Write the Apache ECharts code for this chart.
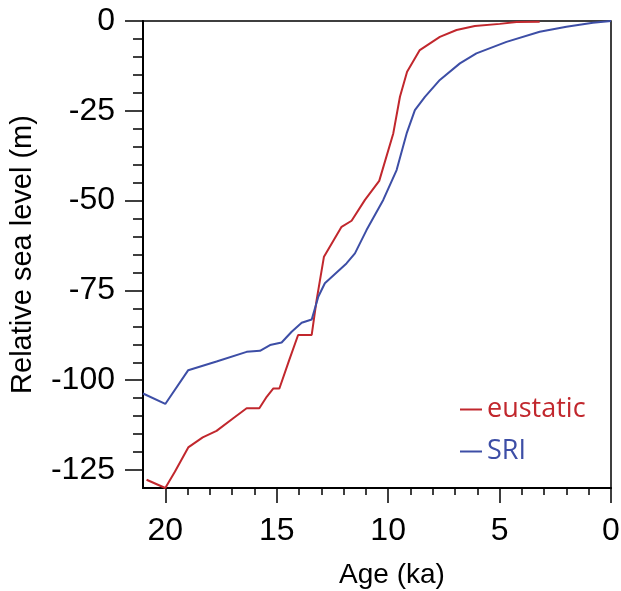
<!DOCTYPE html>
<html>
<head>
<meta charset="utf-8">
<script src="https://cdn.jsdelivr.net/npm/echarts@6/dist/echarts.min.js"></script>
<style>html,body{margin:0;padding:0;background:#fff;}#c{width:621px;height:591px;}</style>
</head>
<body>
<div id="c"></div>
<script>
// Age (ka) and relative sea level (m)
var eustaticAge   = [20.84, 20.0, 19.57, 18.97, 18.32, 17.70, 16.95, 16.35, 15.78, 15.45, 15.15, 14.88, 14.44, 14.04, 13.43, 13.21, 12.88, 12.09, 11.64, 11.04, 10.40, 9.77, 9.47, 9.15, 8.58, 7.68, 6.93, 6.11, 4.99, 4.24, 3.20];
var eustaticLevel = [-127.7, -130, -125.5, -118.7, -115.9, -114.1, -110.6, -107.8, -107.8, -104.6, -102.3, -102.3, -94.4, -87.4, -87.4, -77.7, -65.6, -57.3, -55.6, -49.8, -44.5, -31.3, -21.1, -14.1, -8.1, -4.4, -2.5, -1.4, -0.8, -0.3, -0.2];
var sriAge   = [21.0, 20.0, 18.97, 17.70, 16.35, 15.75, 15.30, 14.78, 14.33, 13.88, 13.43, 13.13, 12.84, 11.87, 11.49, 10.97, 10.22, 9.62, 9.17, 8.80, 8.35, 7.68, 6.78, 6.04, 4.69, 3.20, 2.00, 0.81, 0.0];
var sriLevel = [-103.7, -106.6, -97.2, -94.8, -92.1, -91.8, -90.2, -89.5, -86.5, -84.0, -83.1, -76.7, -73.0, -67.5, -64.7, -58.2, -49.8, -41.5, -31.3, -24.8, -21.1, -16.4, -11.8, -9.0, -5.8, -3.0, -1.6, -0.5, 0.0];
var xMajorTicks = [0, 5, 10, 15, 20];
var xMinorTicks = [1, 2, 3, 4, 6, 7, 8, 9, 11, 12, 13, 14, 16, 17, 18, 19];
var yMajorTicks = [-125, -100, -75, -50, -25, 0];
var yMinorTicks = [-120, -115, -110, -105, -95, -90, -85, -80, -70, -65, -60, -55, -45, -40, -35, -30, -20, -15, -10, -5];
var seriesNames = ['eustatic', 'SRI'];
var seriesColors = ['#c1272d', '#3d4ea6'];

function pairs(a, b) { return a.map(function (v, i) { return [v, b[i]]; }); }

var font = 'Liberation Sans, Arial, Helvetica, sans-serif';
var chart = echarts.init(document.getElementById('c'), null, {renderer: 'canvas'});
var axisLineStyle = {color: '#000', width: 2};
var gridBox = {left: 143, right: 10, top: 21, bottom: 103, containLabel: false, outerBoundsMode: 'none'};
chart.setOption({
  animation: false,
  backgroundColor: '#fff',
  grid: [
    Object.assign({show: true, borderColor: '#000', borderWidth: 1.5}, gridBox),
    Object.assign({show: false}, gridBox)
  ],
  xAxis: [{
    gridIndex: 0, type: 'value', min: 0, max: 21, inverse: true, position: 'bottom',
    name: 'Age (ka)', nameLocation: 'middle', nameGap: 73,
    nameTextStyle: {fontFamily: font, fontSize: 28, color: '#000', padding: [0, 0, 0, 30]},
    axisLine: {show: true, onZero: false, lineStyle: axisLineStyle},
    axisTick: {show: true, inside: false, length: 15, customValues: xMajorTicks, lineStyle: {color: '#000', width: 1.5}},
    axisLabel: {show: true, customValues: xMajorTicks, margin: 27, fontFamily: font, fontSize: 32, color: '#000'},
    splitLine: {show: false}
  }, {
    gridIndex: 1, type: 'value', min: 0, max: 21, inverse: true, position: 'bottom',
    axisLine: {show: false, onZero: false},
    axisTick: {show: true, inside: false, length: 7, customValues: xMinorTicks, lineStyle: {color: '#000', width: 1.5}},
    axisLabel: {show: false},
    splitLine: {show: false}
  }],
  yAxis: [{
    gridIndex: 0, type: 'value', min: -130, max: 0, position: 'left',
    name: 'Relative sea level (m)', nameLocation: 'middle', nameRotate: 90, nameGap: 106,
    nameTextStyle: {fontFamily: font, fontSize: 29, color: '#000'},
    axisLine: {show: true, onZero: false, lineStyle: axisLineStyle},
    axisTick: {show: true, inside: false, length: 18, customValues: yMajorTicks, lineStyle: {color: '#000', width: 1.5}},
    axisLabel: {show: true, customValues: yMajorTicks, margin: 28, fontFamily: font, fontSize: 32, color: '#000'},
    splitLine: {show: false}
  }, {
    gridIndex: 1, type: 'value', min: -130, max: 0, position: 'left',
    axisLine: {show: false, onZero: false},
    axisTick: {show: true, inside: false, length: 10, customValues: yMinorTicks, lineStyle: {color: '#000', width: 1.5}},
    axisLabel: {show: false},
    splitLine: {show: false}
  }],
  legend: [{
    data: [seriesNames[0]], orient: 'vertical', left: 455, top: 391,
    icon: 'rect', itemWidth: 22, itemHeight: 2,
    textStyle: {color: seriesColors[0], fontSize: 27, fontFamily: 'Open Sans, Lato, sans-serif'}
  }, {
    data: [seriesNames[1]], orient: 'vertical', left: 455, top: 433,
    icon: 'rect', itemWidth: 22, itemHeight: 2,
    textStyle: {color: seriesColors[1], fontSize: 27, fontFamily: 'Open Sans, Lato, sans-serif'}
  }],
  series: [{
    name: seriesNames[0], type: 'line', xAxisIndex: 0, yAxisIndex: 0,
    data: pairs(eustaticAge, eustaticLevel), showSymbol: false, symbol: 'none',
    lineStyle: {color: seriesColors[0], width: 2}, itemStyle: {color: seriesColors[0]}
  }, {
    name: seriesNames[1], type: 'line', xAxisIndex: 0, yAxisIndex: 0,
    data: pairs(sriAge, sriLevel), showSymbol: false, symbol: 'none',
    lineStyle: {color: seriesColors[1], width: 2}, itemStyle: {color: seriesColors[1]}
  }]
});
</script>
</body>
</html>
